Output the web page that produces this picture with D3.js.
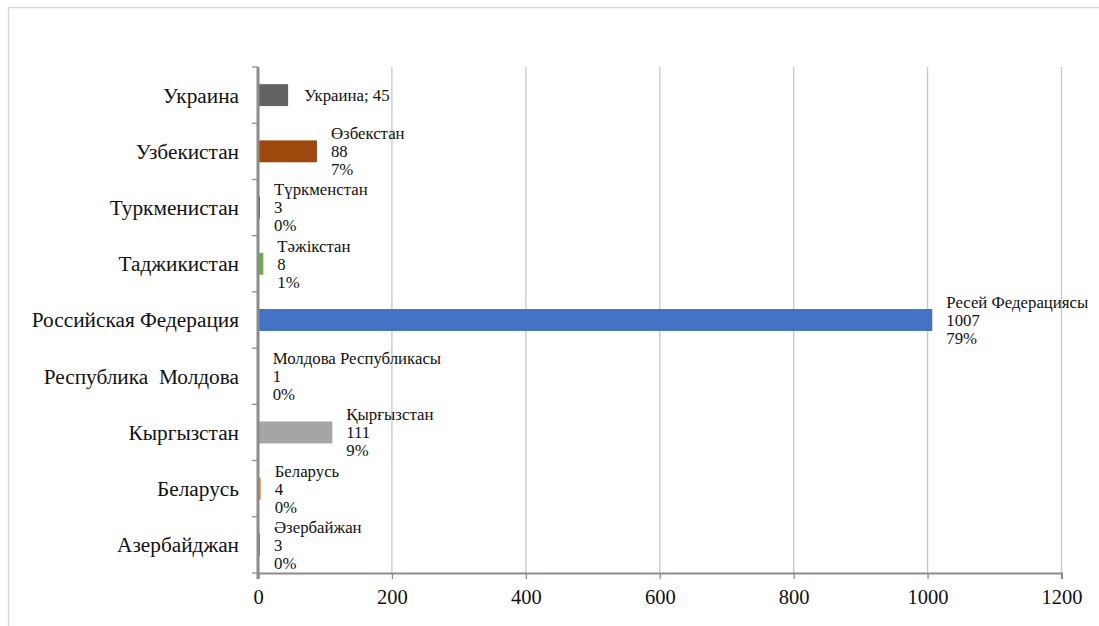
<!DOCTYPE html>
<html><head><meta charset="utf-8">
<script src="https://cdn.jsdelivr.net/npm/d3@7"></script>
<style>body{margin:0;background:#fff}svg{display:block}</style>
</head><body>
<svg id="c" width="1099" height="626"></svg>
<script>
const categories = ["Азербайджан","Беларусь","Кыргызстан","Республика  Молдова","Российская Федерация","Таджикистан","Туркменистан","Узбекистан","Украина"];
const values = [3,4,111,1,1007,8,3,88,45];
const labelNames = ["Әзербайжан","Беларусь","Қырғызстан","Молдова Республикасы","Ресей Федерациясы","Тәжікстан","Түркменстан","Өзбекстан","Украина"];
const percents = ["0%","0%","9%","0%","79%","1%","0%","7%",""];
const colors = ["#4472C4","#ED7D31","#A5A5A5","#FFC000","#4472C4","#70AD47","#264478","#9E480E","#636363"];
const xTicks = [0,200,400,600,800,1000,1200];

const svg = d3.select("#c");
const font = "Liberation Serif, Times New Roman, serif";
svg.append("rect").attr("x",8.5).attr("y",7.5).attr("width",1200).attr("height",700)
  .attr("fill","none").attr("stroke","#d9d9d9").attr("stroke-width",1.5);

const L=258, R=1061.5, T=67, B=573;
const x = d3.scaleLinear().domain([0,1200]).range([L,R]);
const y = d3.scaleBand().domain(categories.slice().reverse()).range([T,B]).paddingInner(0.61).paddingOuter(0.305);
const yb = d3.scaleBand().domain(categories.slice().reverse()).range([T,B]);

// gridlines
svg.append("g").selectAll("line").data(xTicks.filter(d=>d>0)).join("line")
  .attr("x1",d=>x(d)).attr("x2",d=>x(d)).attr("y1",T).attr("y2",B)
  .attr("stroke","#c8c8c8").attr("stroke-width",1.3);

// bars
const data = categories.map((c,i)=>({c,v:values[i],n:labelNames[i],p:percents[i],col:colors[i]}));
svg.append("g").selectAll("rect").data(data).join("rect")
  .attr("x",x(0)).attr("y",d=>y(d.c)).attr("height",y.bandwidth())
  .attr("width",d=>x(d.v)-x(0)).attr("fill",d=>d.col);

// x axis
const xa = svg.append("g").attr("transform",`translate(0,${B})`)
  .call(d3.axisBottom(x).tickValues(xTicks).tickFormat(d3.format("d")).tickSize(6).tickPadding(10));
xa.select(".domain").attr("stroke","#8c8c8c").attr("stroke-width",2);
xa.selectAll(".tick line").attr("stroke","#8c8c8c").attr("stroke-width",1.3);
xa.selectAll("text").attr("font-family",font).attr("font-size",20.5).attr("fill","#111");

// y axis
const ya = svg.append("g").attr("transform",`translate(${L},0)`);
ya.append("line").attr("x1",0).attr("x2",0).attr("y1",T).attr("y2",B+6).attr("stroke","#8c8c8c").attr("stroke-width",3);
const bounds = d3.range(categories.length+1).map(i=>T+i*yb.bandwidth());
ya.selectAll("line.t").data(bounds).join("line").attr("class","t")
  .attr("x1",-6).attr("x2",0).attr("y1",d=>d).attr("y2",d=>d).attr("stroke","#8c8c8c").attr("stroke-width",1.3);
ya.selectAll("text").data(categories).join("text")
  .attr("x",-19).attr("y",d=>yb(d)+yb.bandwidth()/2).attr("dy","0.35em")
  .attr("text-anchor","end").attr("font-family",font).attr("font-size",21.3).attr("fill","#111")
  .text(d=>d.replace(/ /g,"\u00a0"));

// data labels
const lg = svg.append("g").attr("font-family",font).attr("font-size",16.8).attr("fill","#111");
data.forEach(d=>{
  const cy = yb(d.c)+yb.bandwidth()/2;
  const lx = x(d.v)+14;
  if(d.p===""){
    lg.append("text").attr("x",lx+2).attr("y",cy).attr("dy","0.35em").text(d.n+"; "+d.v);
  } else {
    const t = lg.append("text").attr("y",cy-18);
    [d.n,String(d.v),d.p].forEach((s,k)=>{
      t.append("tspan").attr("x",lx).attr("dy",k===0?"0.35em":"18").text(s);
    });
  }
});
</script>
</body></html>
